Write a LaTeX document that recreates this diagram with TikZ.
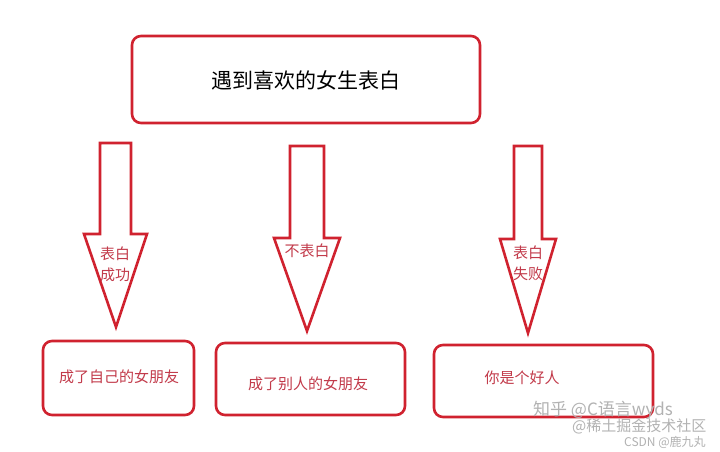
\documentclass[tikz,border=0pt]{standalone}
\usepackage{fontspec}
\setmainfont{Noto Sans CJK SC}
\begin{document}
\begin{tikzpicture}[x=1pt,y=-1pt,
  redline/.style={draw=boxred, line width=2.6pt, line join=miter},
  rbox/.style={redline, rounded corners=9pt},
  lbl/.style={text=labred, font=\fontsize{15}{21}\selectfont, align=center, inner sep=0pt},
  wm/.style={text=black!30, inner sep=0pt, anchor=west}]
\definecolor{boxred}{HTML}{D0222F}
\definecolor{labred}{HTML}{C23A4A}
\useasboundingbox[fill=white] (0,0) rectangle (720,451);
% top box
\draw[rbox] (132,36) rectangle (480,123);
\node[inner sep=0pt, font=\fontsize{21}{25}\selectfont] (top) at (306,80) {遇到喜欢的女生表白};
% arrows
\draw[redline] (100,143) -- (131,143) -- (131,234) -- (147,234) -- (116,327) -- (84,234) -- (100,234) -- cycle;
\draw[redline] (290,146) -- (324,146) -- (324,238) -- (340,238) -- (307,331) -- (274,238) -- (290,238) -- cycle;
\draw[redline] (514,146) -- (542,146) -- (542,239) -- (556,239) -- (528,333) -- (500,239) -- (514,239) -- cycle;
\node[lbl] (l1) at (115,264) {表白\\成功};
\node[lbl] (l2) at (307,250.5) {不表白};
\node[lbl] (l3) at (528,263) {表白\\失败};
% bottom boxes
\draw[rbox] (43,341) rectangle (194,415);
\node[lbl] (b1) at (119,377) {成了自己的女朋友};
\draw[rbox] (216,343) rectangle (405,415);
\node[lbl] (b2) at (308,384) {成了别人的女朋友};
\draw[rbox] (434,345) rectangle (653,417);
\node[lbl] (b3) at (522,378) {你是个好人};
% watermarks
\node[wm, font=\fontsize{17}{17}\selectfont] (w1) at (533,410) {知乎 @C语言wyds};
\node[wm, font=\fontsize{15}{15}\selectfont] (w2) at (572,426) {@稀土掘金技术社区};
\node[wm, font=\fontsize{12}{12}\selectfont] (w3) at (624,442) {CSDN @鹿九丸};
\end{tikzpicture}
\end{document}
